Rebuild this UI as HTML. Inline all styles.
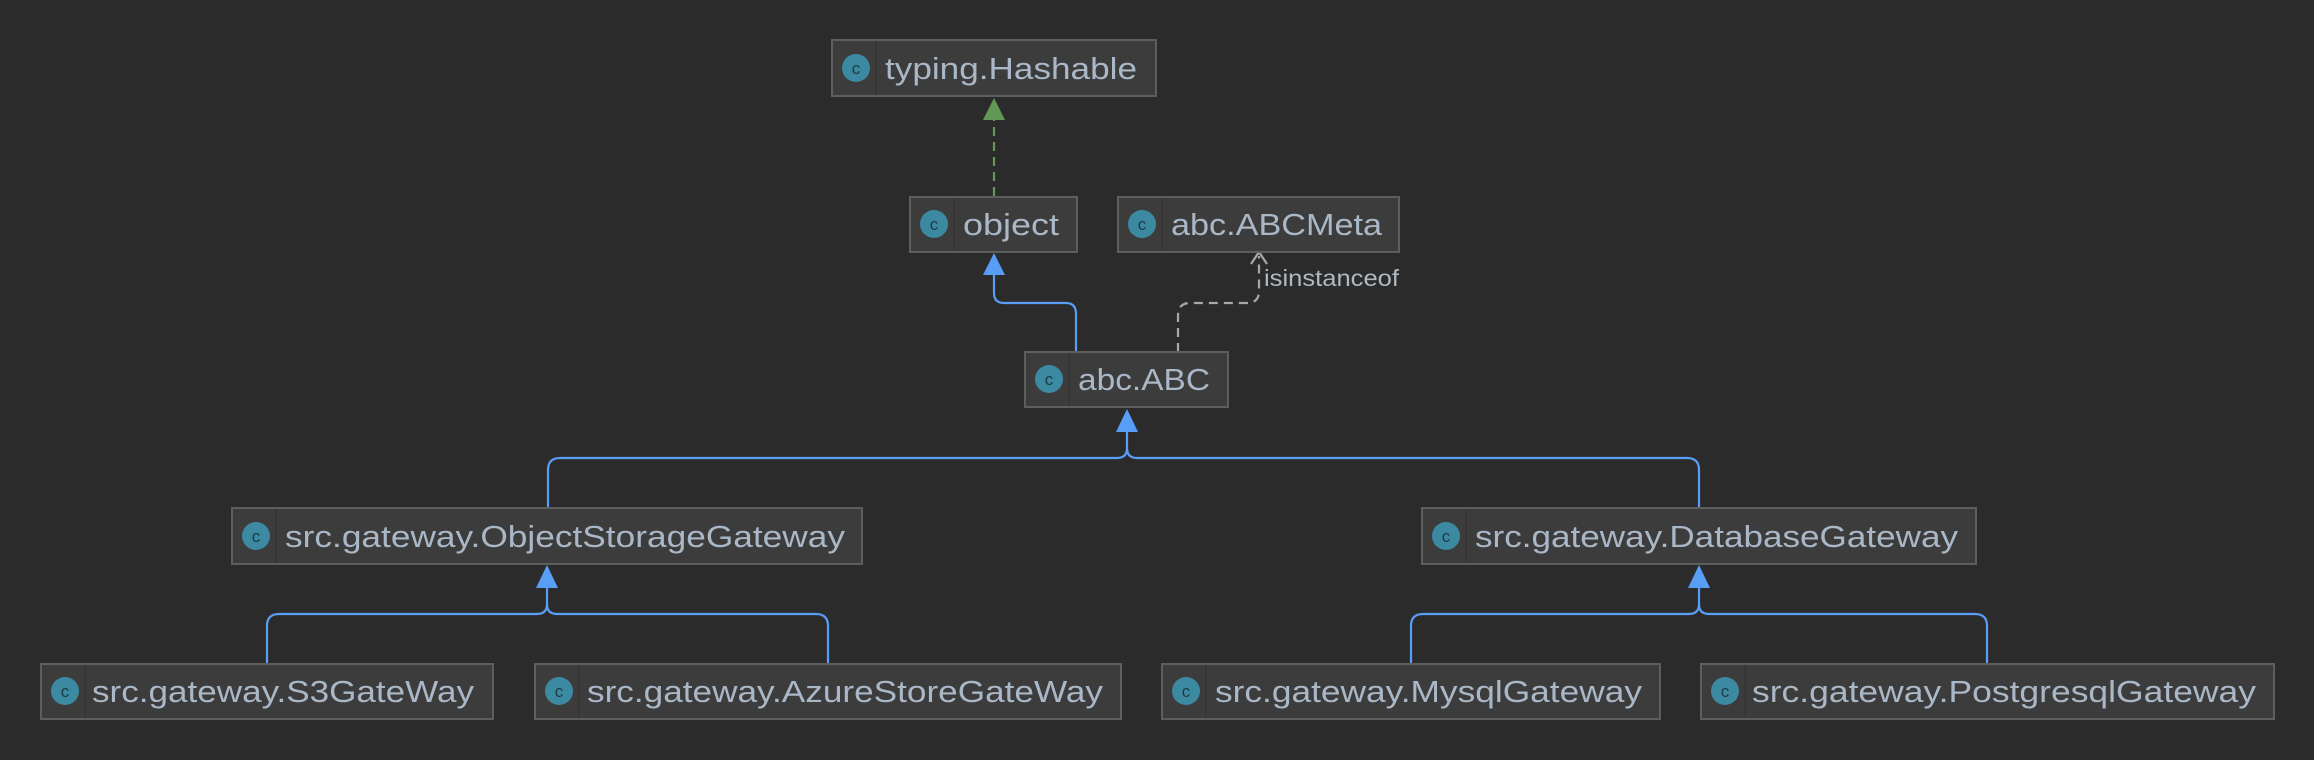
<!DOCTYPE html>
<html><head><meta charset="utf-8"><style>
html,body{margin:0;padding:0;background:#2b2b2b;}
svg{display:block}
text{font-family:"Liberation Sans",sans-serif;}
</style></head><body>
<svg width="2314" height="760" viewBox="0 0 2314 760" xmlns="http://www.w3.org/2000/svg">
<rect width="2314" height="760" fill="#2b2b2b"/>
<defs>
<g id="ic"><circle r="14" fill="#3b8aa2"/><text x="0" y="6" text-anchor="middle" font-size="17" fill="#1e3a45" style="font-family:'Liberation Sans',sans-serif">c</text></g>
</defs>
<g fill="none" stroke-width="2.2">
<path d="M994 196 V118" stroke="#629755" stroke-dasharray="9,6"/>
<path d="M1076 352 V314 Q1076 303 1066 303 H1004 Q994 303 994 293 V270" stroke="#589df6"/>
<path d="M1178 352 V316 Q1178 303 1190 303 H1247 Q1259 303 1259 291 V256" stroke="#a8a8a8" stroke-dasharray="9,6"/>
<path d="M1251 264 L1259 252 L1267 264" stroke="#a8a8a8"/>
<path d="M548 508 V470 Q548 458 560 458 H1117 Q1127 458 1127 448 V430 M1127 448 Q1127 458 1137 458 H1687 Q1699 458 1699 470 V508" stroke="#589df6"/>
<path d="M267 664 V626 Q267 614 279 614 H537 Q547 614 547 604 V586 M547 604 Q547 614 557 614 H816 Q828 614 828 626 V664" stroke="#589df6"/>
<path d="M1411 664 V626 Q1411 614 1423 614 H1689 Q1699 614 1699 604 V586 M1699 604 Q1699 614 1709 614 H1975 Q1987 614 1987 626 V664" stroke="#589df6"/>
</g>
<polygon points="994,98 983,120 1005,120" fill="#629755"/>
<polygon points="994,253 983,275 1005,275" fill="#589df6"/>
<polygon points="1127,409 1116,432 1138,432" fill="#589df6"/>
<polygon points="547,565 536,588 558,588" fill="#589df6"/>
<polygon points="1699,565 1688,588 1710,588" fill="#589df6"/>
<text x="1264" y="286" font-size="23" fill="#b0b8c0" textLength="135" lengthAdjust="spacingAndGlyphs">isinstanceof</text>
<g stroke="#5e5e5e" stroke-width="2" fill="#3c3c3c">
<rect x="832" y="40" width="324" height="56"/>
<rect x="910" y="197" width="167" height="55"/>
<rect x="1118" y="197" width="281" height="55"/>
<rect x="1025" y="352" width="203" height="55"/>
<rect x="232" y="508" width="630" height="56"/>
<rect x="1422" y="508" width="554" height="56"/>
<rect x="41" y="664" width="452" height="55"/>
<rect x="535" y="664" width="586" height="55"/>
<rect x="1162" y="664" width="498" height="55"/>
<rect x="1701" y="664" width="573" height="55"/>
</g>
<g stroke="#353535" stroke-width="1.5">
<line x1="876" y1="41" x2="876" y2="95"/><line x1="954" y1="198" x2="954" y2="251"/>
<line x1="1162" y1="198" x2="1162" y2="251"/><line x1="1069" y1="353" x2="1069" y2="406"/>
<line x1="276" y1="509" x2="276" y2="563"/><line x1="1466" y1="509" x2="1466" y2="563"/>
<line x1="85" y1="665" x2="85" y2="718"/><line x1="579" y1="665" x2="579" y2="718"/>
<line x1="1206" y1="665" x2="1206" y2="718"/><line x1="1745" y1="665" x2="1745" y2="718"/>
</g>
<use href="#ic" x="856" y="68"/><use href="#ic" x="934" y="224"/><use href="#ic" x="1142" y="224"/>
<use href="#ic" x="1049" y="379"/><use href="#ic" x="256" y="536"/><use href="#ic" x="1446" y="536"/>
<use href="#ic" x="65" y="691"/><use href="#ic" x="559" y="691"/><use href="#ic" x="1186" y="691"/><use href="#ic" x="1725" y="691"/>
<g font-size="31" fill="#a9b7c6">
<text x="885" y="79" textLength="252" lengthAdjust="spacingAndGlyphs">typing.Hashable</text>
<text x="963" y="235" textLength="96" lengthAdjust="spacingAndGlyphs">object</text>
<text x="1171" y="235" textLength="211" lengthAdjust="spacingAndGlyphs">abc.ABCMeta</text>
<text x="1078" y="390" textLength="132" lengthAdjust="spacingAndGlyphs">abc.ABC</text>
<text x="285" y="547" textLength="560" lengthAdjust="spacingAndGlyphs">src.gateway.ObjectStorageGateway</text>
<text x="1475" y="547" textLength="483" lengthAdjust="spacingAndGlyphs">src.gateway.DatabaseGateway</text>
<text x="92" y="702" textLength="382" lengthAdjust="spacingAndGlyphs">src.gateway.S3GateWay</text>
<text x="587" y="702" textLength="516" lengthAdjust="spacingAndGlyphs">src.gateway.AzureStoreGateWay</text>
<text x="1215" y="702" textLength="427" lengthAdjust="spacingAndGlyphs">src.gateway.MysqlGateway</text>
<text x="1752" y="702" textLength="504" lengthAdjust="spacingAndGlyphs">src.gateway.PostgresqlGateway</text>
</g>
</svg>
</body></html>
